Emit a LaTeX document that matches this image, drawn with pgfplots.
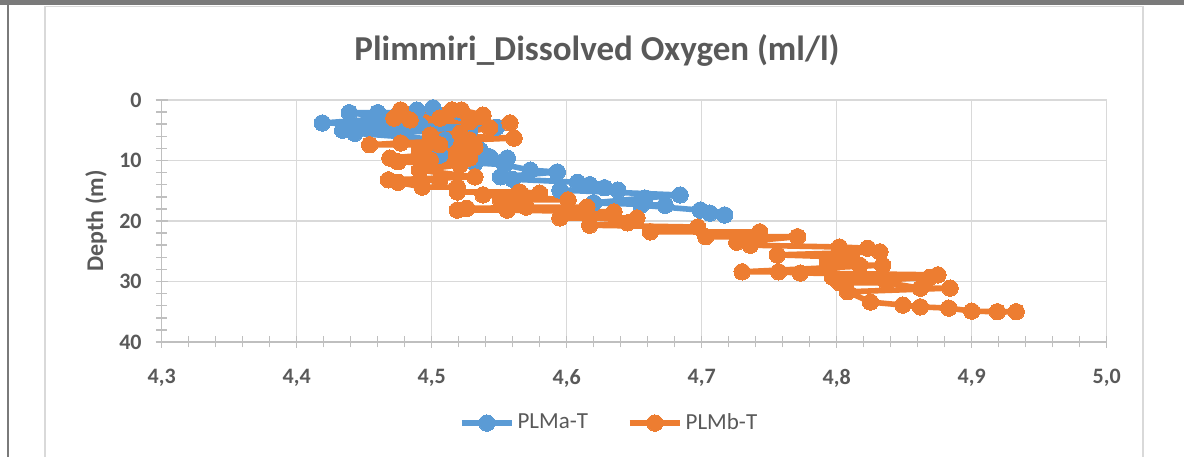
\documentclass[border=0pt]{standalone}
\usepackage{pgfplots}
\pgfplotsset{compat=1.18}
\usepackage{fontspec}
\setmainfont{Carlito}
\definecolor{xlblue}{HTML}{5B9BD5}
\definecolor{xlorange}{HTML}{ED7D31}
\definecolor{txtgray}{HTML}{595959}
\definecolor{gridgray}{HTML}{D9D9D9}
\definecolor{axgray}{HTML}{BFBFBF}
\definecolor{framegray}{HTML}{7A7A7A}

\pgfplotstableread{
x d
4.501 1.3
4.489 1.65
4.521 2.0
4.460 2.1
4.439 2.1
4.470 3.0
4.419 3.8
4.491 4.1
4.548 4.5
4.462 4.6
4.434 5.0
4.528 5.0
4.443 5.5
4.510 6.6
4.536 8.3
4.506 9.1
4.543 9.4
4.556 9.6
4.532 10.4
4.554 10.7
4.573 11.6
4.593 11.9
4.551 12.7
4.560 13.1
4.608 13.6
4.617 14.0
4.628 14.5
4.638 14.9
4.595 14.9
4.684 15.7
4.658 16.2
4.620 17.0
4.673 17.4
4.655 17.4
4.699 18.2
4.706 18.7
4.717 19.0
}\plma

\pgfplotstableread{
x d
4.477 1.65
4.515 1.65
4.522 1.65
4.538 2.5
4.472 3.0
4.506 3.0
4.484 3.3
4.528 3.6
4.558 3.8
4.543 4.6
4.521 5.5
4.499 5.8
4.561 6.3
4.528 6.6
4.477 7.1
4.454 7.4
4.506 7.4
4.532 7.8
4.491 8.3
4.521 8.6
4.469 9.6
4.528 9.6
4.499 9.9
4.475 10.2
4.521 10.7
4.491 11.6
4.532 12.7
4.468 13.2
4.506 13.2
4.475 13.6
4.493 14.4
4.519 14.4
4.519 15.2
4.565 15.2
4.580 15.4
4.538 15.7
4.601 16.5
4.551 16.5
4.570 17.7
4.615 17.7
4.526 17.9
4.519 18.2
4.556 18.2
4.635 18.5
4.595 19.5
4.652 19.5
4.645 20.3
4.617 20.7
4.697 21.0
4.662 21.8
4.743 21.8
4.703 22.6
4.771 22.6
4.726 23.5
4.736 24.0
4.802 24.3
4.823 24.5
4.832 25.1
4.756 25.6
4.811 26.0
4.793 26.9
4.817 27.3
4.834 27.3
4.730 28.4
4.757 28.4
4.773 28.6
4.875 28.9
4.797 29.3
4.869 29.3
4.802 30.2
4.837 30.2
4.862 31.1
4.884 31.1
4.808 31.7
4.825 33.4
4.849 33.9
4.862 34.2
4.883 34.4
4.900 34.9
4.919 35.0
4.933 35.0
}\plmb

\begin{document}
\begin{tikzpicture}[x=1pt,y=1pt]
\fill[white] (0,0) rectangle (592,228.5);
\fill[framegray] (0,226) rectangle (592,228.5);
\draw[framegray, line width=1pt] (4,0) -- (4,226);
\draw[gridgray, line width=0.75pt] (22.5,0) -- (22.5,225.2) -- (571.5,225.2) -- (571.5,0);
\node[font=\bfseries\fontsize{17.5}{20}\selectfont, text=txtgray] at (298.5,203.5) {Plimmiri\_Dissolved Oxygen (ml/l)};
\begin{axis}[
  at={(80.85pt,57.5pt)}, anchor=south west,
  scale only axis, width=472.5pt, height=121pt,
  xmin=4.3, xmax=5.0, ymin=0, ymax=40, y dir=reverse,
  xtick={4.3,4.4,4.5,4.6,4.7,4.8,4.9,5.0},
  ytick={0,10,20,30,40},
  minor x tick num=4, minor y tick num=4,
  xmajorgrids, ymajorgrids,
  grid style={gridgray, line width=0.75pt},
  axis line style={draw=none},
  tick align=center,
  major tick length=6pt, minor tick length=5.5pt,
  tick style={axgray, line width=0.75pt},
  xtick pos=left, ytick pos=left,
  /pgf/number format/assume math mode=true,
  ticklabel style={font=\bfseries\fontsize{11}{12}\selectfont, text=txtgray},
  xticklabel style={yshift=-7pt, /pgf/number format/.cd, fixed, fixed zerofill, precision=1, use comma},
  yticklabel style={xshift=-3.5pt},
  ylabel={Depth (m)},
  ylabel style={font=\bfseries\fontsize{12}{14}\selectfont, text=txtgray, at={(axis description cs:-0.0695,0.5)}, anchor=center, rotate=0},
  legend style={at={(axis description cs:0.474,-0.335)}, anchor=center, draw=none,
    font=\fontsize{11.5}{13}\selectfont, text=txtgray, legend columns=2,
    /tikz/every even column/.append style={column sep=18pt},
    nodes={inner xsep=1.5pt}},
  legend image code/.code={\draw[mark repeat=2,mark phase=2] plot coordinates {(0pt,0pt) (12.5pt,0pt) (25pt,0pt)};},
  clip=false,
]
\draw[axgray, line width=0.75pt] (axis cs:4.3,40) -- (axis cs:5.0,40);
\draw[axgray, line width=0.75pt] (axis cs:4.3,0) -- (axis cs:4.3,40);
\addplot[xlblue, line width=2.8pt, line join=round, mark=*, mark size=4.1pt, mark options={solid, fill=xlblue, draw=xlblue, line width=0pt}] table[x=x, y=d] {\plma};
\addlegendentry{PLMa-T}
\addplot[xlorange, line width=2.8pt, line join=round, mark=*, mark size=4.1pt, mark options={solid, fill=xlorange, draw=xlorange, line width=0pt}] table[x=x, y=d] {\plmb};
\addlegendentry{PLMb-T}
\end{axis}
\end{tikzpicture}
\end{document}
